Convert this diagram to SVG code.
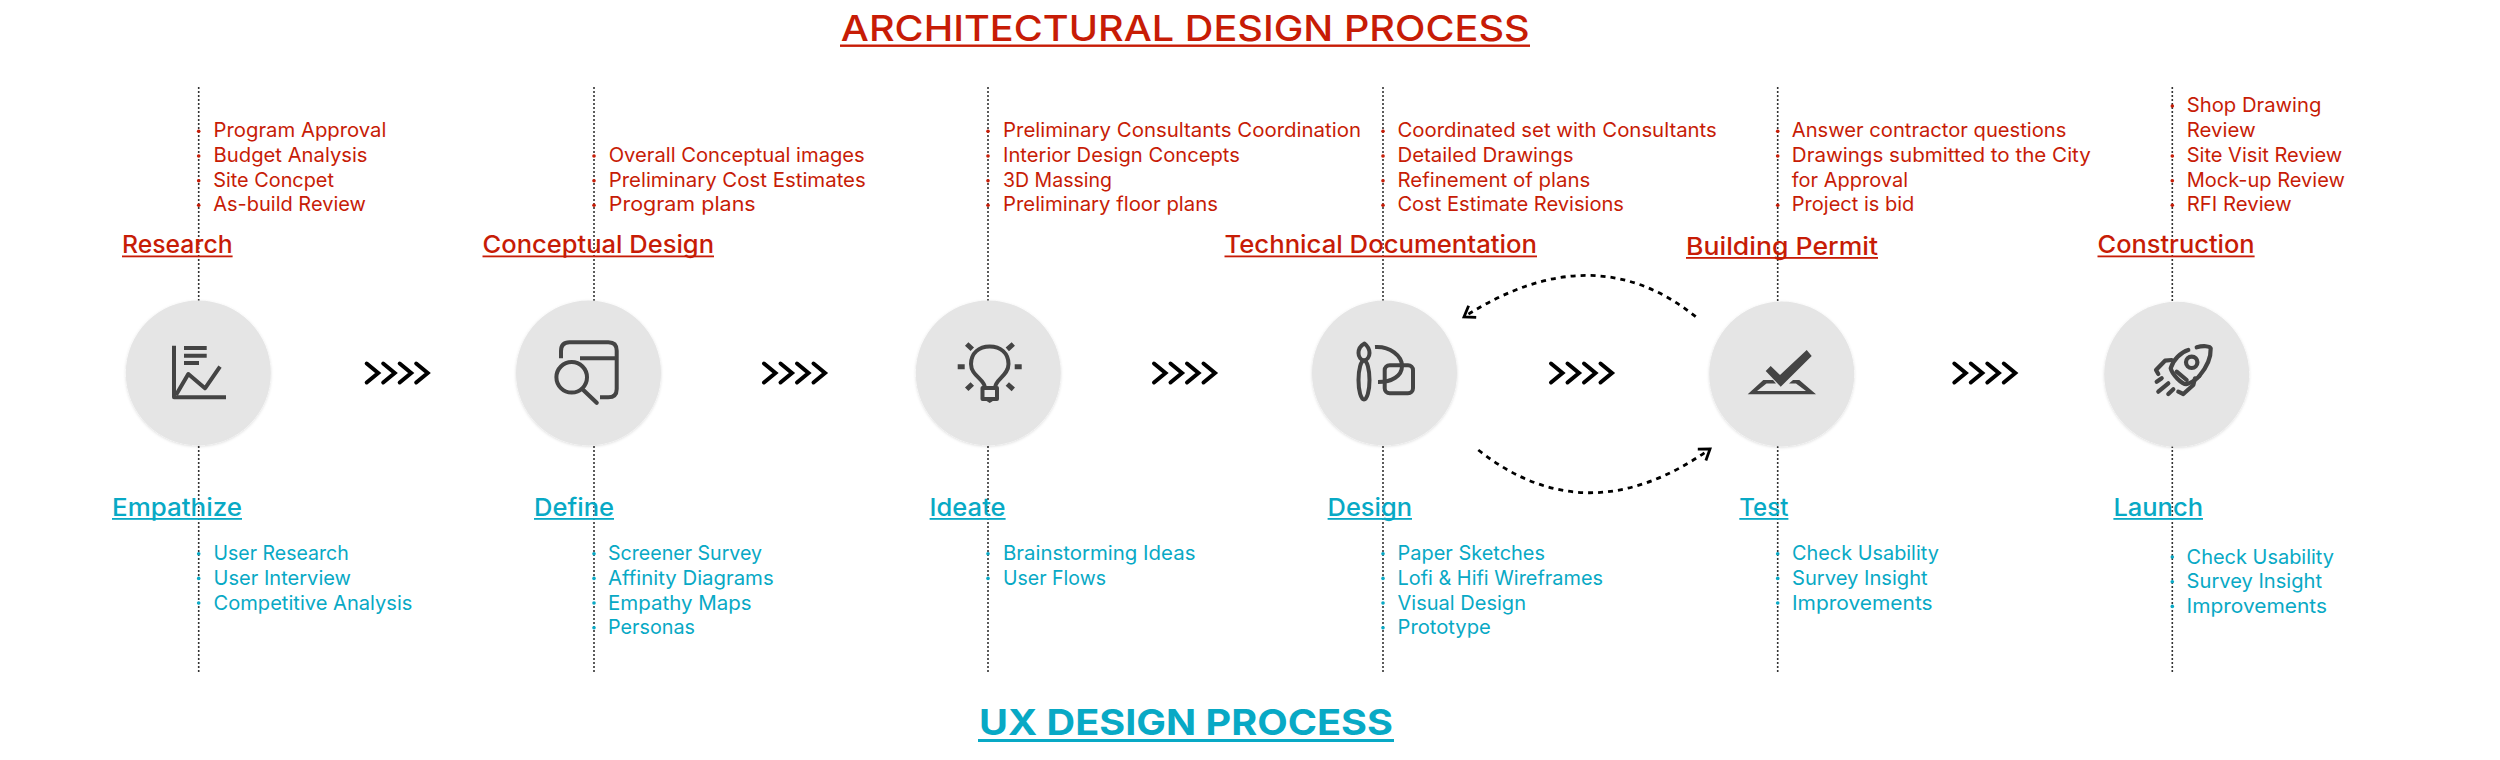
<svg xmlns="http://www.w3.org/2000/svg" width="2500" height="760" viewBox="0 0 2500 760">
<style>
text{font-family:"Inter","Open Sans","Liberation Sans",sans-serif}
.r{fill:#c71c06}.b{fill:#08a9c5}
.t{font-size:20px;font-weight:400}
.h{font-size:24.5px;font-weight:500}
.ti{font-size:36px;font-weight:500}
.ub{font-size:36px;font-weight:700}
.dot{stroke:#333;stroke-width:1.6;stroke-dasharray:2 2;fill:none}
.chev{fill:none;stroke:#000;stroke-width:4;stroke-linecap:round;stroke-linejoin:miter}
.loop{fill:none;stroke:#000;stroke-width:2.8;stroke-dasharray:5 5}
.c{fill:#e5e5e5;filter:url(#s)}
.i{fill:none;stroke:#444;stroke-width:4.2;stroke-linecap:round;stroke-linejoin:round}
.ib{fill:none;stroke:#444;stroke-width:4;stroke-linecap:butt;stroke-linejoin:round}
.if{fill:#444}
</style>
<defs>
<filter id="s" x="-10%" y="-10%" width="120%" height="120%"><feDropShadow dx="0" dy="1" stdDeviation="1.5" flood-color="#000" flood-opacity=".14"/></filter>
<g id="ch">
<path class="chev" d="M2 3 L13.5 12.5 L2 22"/><path class="chev" d="M18.5 3 L30 12.5 L18.5 22"/><path class="chev" d="M35 3 L46.5 12.5 L35 22"/><path class="chev" d="M51.5 3 L63 12.5 L51.5 22"/>
</g>
<marker id="ah" markerUnits="userSpaceOnUse" markerWidth="20" markerHeight="20" refX="14" refY="10" orient="auto"><path d="M4 3 L14 10 L4 17" fill="none" stroke="#000" stroke-width="2.8"/></marker>
</defs>
<g id="connectors">
<path class="dot" d="M198.7 87V301M198.7 446V673M594 87V301M594 446V673M988 87V301M988 446V673M1383 87V301M1383 446V673M1777.7 87V302M1777.7 446V673M2172.3 87V302M2172.3 446V673"/>
<use href="#ch" x="364.7" y="360.5"/><use href="#ch" x="762" y="360.5"/><use href="#ch" x="1152" y="360.5"/><use href="#ch" x="1549" y="360.5"/><use href="#ch" x="1952.3" y="360.5"/>
<path class="loop" marker-end="url(#ah)" d="M1695.7 316.7 Q1593 234 1464 317"/>
<path class="loop" marker-end="url(#ah)" d="M1478.3 450 Q1587 536 1710 449"/>
</g>
<text id="title-arch" class="ti r" x="840.8" y="40.5" textLength="688.8" lengthAdjust="spacingAndGlyphs">ARCHITECTURAL DESIGN PROCESS</text>
<rect class="r" x="840" y="44.5" width="690" height="2.4"/>
<text id="title-ux" class="ub b" x="979" y="735" textLength="414" lengthAdjust="spacingAndGlyphs">UX DESIGN PROCESS</text>
<rect class="b" x="978" y="739" width="416" height="3"/>

<g id="node-1">
<circle class="c" cx="198.3" cy="373" r="72.5"/>
<path class="ib" d="M174 345.7V397.3H226"/><path class="ib" d="M184 348H206.7M184 355.7H206.7M184 363H199"/><path class="ib" d="M176 395L188.3 374L205 388.3L220 366.7"/>
<text class="h r" x="122" y="253" textLength="110.6" lengthAdjust="spacingAndGlyphs">Research</text><rect class="r" x="122" y="255.5" width="110.6" height="1.8"/>
<g class="t r"><circle cx="198.7" cy="131.3" r="1.8"/><circle cx="198.7" cy="156" r="1.8"/><circle cx="198.7" cy="180.7" r="1.8"/><circle cx="198.7" cy="205.3" r="1.8"/>
<text x="213.6" y="137.3" textLength="172.8" lengthAdjust="spacingAndGlyphs">Program Approval</text>
<text x="213.6" y="162" textLength="153.9" lengthAdjust="spacingAndGlyphs">Budget Analysis</text>
<text x="213.3" y="186.7" textLength="120.6" lengthAdjust="spacingAndGlyphs">Site Concpet</text>
<text x="213.3" y="211.3" textLength="152.6" lengthAdjust="spacingAndGlyphs">As-build Review</text></g>
<text class="h b" x="112" y="516" textLength="130" lengthAdjust="spacingAndGlyphs">Empathize</text><rect class="b" x="112" y="518" width="130" height="1.8"/>
<g class="t b"><circle cx="198.7" cy="553.7" r="1.8"/><circle cx="198.7" cy="578.4" r="1.8"/><circle cx="198.7" cy="603" r="1.8"/>
<text x="213.5" y="560.3" textLength="135.2" lengthAdjust="spacingAndGlyphs">User Research</text>
<text x="213.5" y="585" textLength="137.5" lengthAdjust="spacingAndGlyphs">User Interview</text>
<text x="213.5" y="609.7" textLength="198.9" lengthAdjust="spacingAndGlyphs">Competitive Analysis</text></g>
</g>

<g id="node-2">
<circle class="c" cx="588.5" cy="373" r="72.5"/>
<path class="ib" d="M561 358.3V351Q561 342.3 569.5 342.3H608.3Q616.7 342.3 616.7 350.7V389Q616.7 397.3 608.3 397.3H600"/><path class="ib" d="M580 358.3H616.7"/><circle class="ib" cx="571.7" cy="377.3" r="15.3"/><path class="i" d="M583.3 390L596.7 402.7"/>
<text class="h r" x="482.5" y="253" textLength="231.5" lengthAdjust="spacingAndGlyphs">Conceptual Design</text><rect class="r" x="482.5" y="255.5" width="231.5" height="1.8"/>
<g class="t r"><circle cx="594" cy="156" r="1.8"/><circle cx="594" cy="180.7" r="1.8"/><circle cx="594" cy="205.3" r="1.8"/>
<text x="608.7" y="162" textLength="256.1" lengthAdjust="spacingAndGlyphs">Overall Conceptual images</text>
<text x="608.7" y="186.7" textLength="257.1" lengthAdjust="spacingAndGlyphs">Preliminary Cost Estimates</text>
<text x="608.7" y="211.3" textLength="147" lengthAdjust="spacingAndGlyphs">Program plans</text></g>
<text class="h b" x="534" y="516" textLength="80" lengthAdjust="spacingAndGlyphs">Define</text><rect class="b" x="534" y="518" width="80" height="1.8"/>
<g class="t b"><circle cx="594" cy="553.7" r="1.8"/><circle cx="594" cy="578.4" r="1.8"/><circle cx="594" cy="603" r="1.8"/><circle cx="594" cy="627.7" r="1.8"/>
<text x="608" y="560.3" textLength="154" lengthAdjust="spacingAndGlyphs">Screener Survey</text>
<text x="608" y="585" textLength="165.7" lengthAdjust="spacingAndGlyphs">Affinity Diagrams</text>
<text x="608" y="609.7" textLength="143.7" lengthAdjust="spacingAndGlyphs">Empathy Maps</text>
<text x="608" y="634.3" textLength="87" lengthAdjust="spacingAndGlyphs">Personas</text></g>
</g>

<g id="node-3">
<circle class="c" cx="988.3" cy="373" r="72.5"/>
<path class="ib" d="M985 388C985 379 971 376 971 364C971 353 979 346.5 989.7 346.5C1000.5 346.5 1008.5 353 1008.5 364C1008.5 376 995 379 995 388"/>
<path class="ib" d="M982.5 388H997V399H982.5Z"/><path class="if" d="M985 400H994.5L989.7 403Z"/>
<path d="M957.7 366.7H964.7M1014.7 366.7H1021.7M966.7 344L972.3 349.3M1013.3 344L1007.3 349.3M966.7 389.3L972.3 384M1013.3 389.3L1007.3 384" fill="none" stroke="#444" stroke-width="5"/>
<g class="t r"><circle cx="988" cy="131.3" r="1.8"/><circle cx="988" cy="156" r="1.8"/><circle cx="988" cy="180.7" r="1.8"/><circle cx="988" cy="205.3" r="1.8"/>
<text x="1003" y="137.3" textLength="358" lengthAdjust="spacingAndGlyphs">Preliminary Consultants Coordination</text>
<text x="1003" y="162" textLength="236.8" lengthAdjust="spacingAndGlyphs">Interior Design Concepts</text>
<text x="1003" y="186.7" textLength="109" lengthAdjust="spacingAndGlyphs">3D Massing</text>
<text x="1003" y="211.3" textLength="214.9" lengthAdjust="spacingAndGlyphs">Preliminary floor plans</text></g>
<text class="h b" x="929.6" y="516" textLength="76" lengthAdjust="spacingAndGlyphs">Ideate</text><rect class="b" x="929.6" y="518" width="76" height="1.8"/>
<g class="t b"><circle cx="988" cy="553.7" r="1.8"/><circle cx="988" cy="578.4" r="1.8"/>
<text x="1003" y="560.3" textLength="192.4" lengthAdjust="spacingAndGlyphs">Brainstorming Ideas</text>
<text x="1003" y="585" textLength="103" lengthAdjust="spacingAndGlyphs">User Flows</text></g>
</g>

<g id="node-4">
<circle class="c" cx="1384.5" cy="373" r="72.5"/>
<path class="ib" d="M1364.5 343.5C1360 346 1358.5 350 1358.5 353C1358.5 357 1361 360 1364 360.5C1367 360 1369.5 357 1369.5 353C1369.5 349 1367 345.500 1364.5 343.5Z"/>
<ellipse class="ib" cx="1364" cy="380" rx="5.5" ry="19.500"/>
<rect class="ib" x="1384.7" y="365.3" width="28.3" height="28" rx="5"/>
<path class="ib" d="M1375 347C1390 346 1402 356 1402 366C1402 376 1392 382 1378 382"/>
<text class="h r" x="1224.5" y="253" textLength="312.5" lengthAdjust="spacingAndGlyphs">Technical Documentation</text><rect class="r" x="1224.5" y="255.5" width="312.5" height="1.8"/>
<g class="t r"><circle cx="1383" cy="131.3" r="1.8"/><circle cx="1383" cy="156" r="1.8"/><circle cx="1383" cy="180.7" r="1.8"/><circle cx="1383" cy="205.3" r="1.8"/>
<text x="1397.4" y="137.3" textLength="319.4" lengthAdjust="spacingAndGlyphs">Coordinated set with Consultants</text>
<text x="1397.4" y="162" textLength="176.1" lengthAdjust="spacingAndGlyphs">Detailed Drawings</text>
<text x="1397.4" y="186.7" textLength="192.9" lengthAdjust="spacingAndGlyphs">Refinement of plans</text>
<text x="1397.4" y="211.3" textLength="226.6" lengthAdjust="spacingAndGlyphs">Cost Estimate Revisions</text></g>
<text class="h b" x="1327.6" y="516" textLength="84.4" lengthAdjust="spacingAndGlyphs">Design</text><rect class="b" x="1327.6" y="518" width="84.4" height="1.8"/>
<g class="t b"><circle cx="1383" cy="553.7" r="1.8"/><circle cx="1383" cy="578.4" r="1.8"/><circle cx="1383" cy="603" r="1.8"/><circle cx="1383" cy="627.7" r="1.8"/>
<text x="1397.5" y="560.3" textLength="147.5" lengthAdjust="spacingAndGlyphs">Paper Sketches</text>
<text x="1397.5" y="585" textLength="205.5" lengthAdjust="spacingAndGlyphs">Lofi &amp; Hifi Wireframes</text>
<text x="1397.5" y="609.7" textLength="128.5" lengthAdjust="spacingAndGlyphs">Visual Design</text>
<text x="1397.5" y="634.3" textLength="93.3" lengthAdjust="spacingAndGlyphs">Prototype</text></g>
</g>

<g id="node-5">
<circle class="c" cx="1781.7" cy="374" r="72.5"/>
<path class="if" d="M1770.7 366L1780 375L1806.7 350L1811.7 356L1780.7 386.7L1765.700 371Z"/>
<path class="if" d="M1747.7 394.3L1763.3 380H1773L1776 383.5H1766.5L1757 391H1806L1796 383.5H1789L1793 380H1799.3L1816 394.3Z"/>
<text class="h r" x="1686" y="255" textLength="192" lengthAdjust="spacingAndGlyphs">Building Permit</text><rect class="r" x="1686" y="257" width="192" height="1.8"/>
<g class="t r"><circle cx="1777.7" cy="131.3" r="1.8"/><circle cx="1777.7" cy="156" r="1.8"/><circle cx="1777.7" cy="205.3" r="1.8"/>
<text x="1791.8" y="137.3" textLength="274.5" lengthAdjust="spacingAndGlyphs">Answer contractor questions</text>
<text x="1791.8" y="162" textLength="299" lengthAdjust="spacingAndGlyphs">Drawings submitted to the City</text>
<text x="1791.8" y="186.7" textLength="116.2" lengthAdjust="spacingAndGlyphs">for Approval</text>
<text x="1791.8" y="211.3" textLength="122.5" lengthAdjust="spacingAndGlyphs">Project is bid</text></g>
<text class="h b" x="1739.3" y="516" textLength="49.1" lengthAdjust="spacingAndGlyphs">Test</text><rect class="b" x="1739.3" y="518" width="49.1" height="1.8"/>
<g class="t b"><circle cx="1777.7" cy="553.7" r="1.8"/><circle cx="1777.7" cy="578.4" r="1.8"/><circle cx="1777.7" cy="603" r="1.8"/>
<text x="1792" y="560.3" textLength="146.8" lengthAdjust="spacingAndGlyphs">Check Usability</text>
<text x="1792" y="585" textLength="135.7" lengthAdjust="spacingAndGlyphs">Survey Insight</text>
<text x="1792" y="609.7" textLength="140.6" lengthAdjust="spacingAndGlyphs">Improvements</text></g>
</g>

<g id="node-6">
<circle class="c" cx="2176.7" cy="374.3" r="72.5"/>
<path class="i" d="M2196.7 347.3C2203 345.5 2210 346 2210.7 348.3C2211 357 2207 367 2199.3 376"/>
<path class="i" d="M2188.3 350C2181 352 2173 360 2170.7 368.3C2172 374 2182 385 2187 384C2193 382 2196 380 2199.3 376"/>
<path class="i" d="M2176.7 371.7L2186.7 380"/>
<circle class="i" cx="2191.7" cy="362.3" r="5.7"/>
<path class="i" d="M2171.7 360L2165 360.7L2156 370L2158.3 374"/>
<path class="i" d="M2195 378.3L2193.3 385L2183.3 394L2178.3 391.7"/>
<path class="i" d="M2156.7 381.7L2161.7 378.3M2158.3 391.7L2168.3 383.3M2168.3 394L2173.3 389.3"/>
<text class="h r" x="2097.5" y="253" textLength="157.1" lengthAdjust="spacingAndGlyphs">Construction</text><rect class="r" x="2097.5" y="255.5" width="157.1" height="1.8"/>
<g class="t r"><circle cx="2172.3" cy="106" r="1.8"/><circle cx="2172.3" cy="156" r="1.8"/><circle cx="2172.3" cy="180.7" r="1.8"/><circle cx="2172.3" cy="205.3" r="1.8"/>
<text x="2186.7" y="112.3" textLength="134.7" lengthAdjust="spacingAndGlyphs">Shop Drawing</text>
<text x="2186.7" y="137.3" textLength="68.9" lengthAdjust="spacingAndGlyphs">Review</text>
<text x="2186.7" y="162" textLength="155.6" lengthAdjust="spacingAndGlyphs">Site Visit Review</text>
<text x="2186.7" y="186.7" textLength="158.2" lengthAdjust="spacingAndGlyphs">Mock-up Review</text>
<text x="2186.7" y="211.3" textLength="105.1" lengthAdjust="spacingAndGlyphs">RFI Review</text></g>
<text class="h b" x="2113.4" y="516" textLength="89.6" lengthAdjust="spacingAndGlyphs">Launch</text><rect class="b" x="2113.4" y="518" width="89.6" height="1.8"/>
<g class="t b"><circle cx="2172.3" cy="557" r="1.8"/><circle cx="2172.3" cy="581.7" r="1.8"/><circle cx="2172.3" cy="606.4" r="1.8"/>
<text x="2186.6" y="563.5" textLength="147.4" lengthAdjust="spacingAndGlyphs">Check Usability</text>
<text x="2186.6" y="588.2" textLength="135.4" lengthAdjust="spacingAndGlyphs">Survey Insight</text>
<text x="2186.6" y="612.9" textLength="140.4" lengthAdjust="spacingAndGlyphs">Improvements</text></g>
</g>
</svg>
